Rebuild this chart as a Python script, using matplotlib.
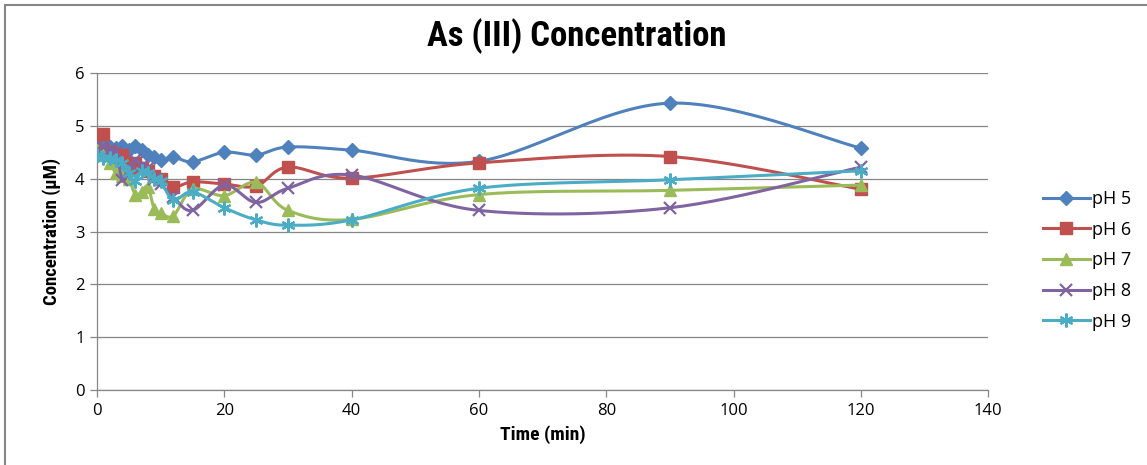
import numpy as np
import matplotlib
matplotlib.use("Agg")
import matplotlib.pyplot as plt
from matplotlib.patches import Rectangle

# ---- data ----
times = [0, 1, 2, 3, 4, 5, 6, 7, 8, 9, 10, 12, 15, 20, 25, 30, 40, 60, 90, 120]
ph5 = [4.60, 4.67, 4.60, 4.58, 4.62, 4.55, 4.62, 4.55, 4.45, 4.41, 4.35, 4.41, 4.32, 4.50, 4.45, 4.60, 4.54, 4.33, 5.43, 4.58]
ph6 = [4.55, 4.84, 4.50, 4.35, 4.45, 4.20, 4.30, 4.20, 4.15, 4.05, 4.00, 3.84, 3.94, 3.90, 3.86, 4.22, 4.01, 4.30, 4.42, 3.80]
ph7 = [4.55, 4.45, 4.30, 4.10, 4.05, 4.00, 3.70, 3.75, 3.85, 3.42, 3.35, 3.30, 3.80, 3.68, 3.93, 3.40, 3.23, 3.70, 3.78, 3.88]
ph8 = [4.55, 4.60, 4.55, 4.50, 3.97, 4.15, 4.35, 4.25, 4.20, 4.00, 3.90, 3.65, 3.40, 3.88, 3.55, 3.82, 4.07, 3.40, 3.45, 4.22]
ph9 = [4.45, 4.40, 4.40, 4.35, 4.30, 4.10, 3.95, 4.15, 4.10, 4.00, 3.95, 3.60, 3.75, 3.45, 3.22, 3.12, 3.22, 3.82, 3.98, 4.15]
series_names = ["pH 5", "pH 6", "pH 7", "pH 8", "pH 9"]

colors = ["#4F81BD", "#C0504D", "#9BBB59", "#8064A2", "#4BACC6"]
markers = ["D", "s", "^", "x", (6, 2, 0)]
msizes = [7, 9, 9, 9, 10]


def smooth(x, y, n=30):
    x = np.asarray(x, float)
    y = np.asarray(y, float)
    sx, sy = 1 / 140.0 * 893, 1 / 6.0 * 317
    P = np.column_stack([x * sx, y * sy])
    Pe = np.vstack([P[0], P, P[-1]])
    out = []
    t = np.linspace(0, 1, n)[:, None]
    for i in range(len(P) - 1):
        p0 = Pe[i + 1]
        p3 = Pe[i + 2]
        c1 = p0 + (Pe[i + 2] - Pe[i]) / 6.0
        c2 = p3 - (Pe[i + 3] - Pe[i + 1]) / 6.0
        seg = (1 - t) ** 3 * p0 + 3 * (1 - t) ** 2 * t * c1 + 3 * (1 - t) * t ** 2 * c2 + t ** 3 * p3
        out.append(seg if i == 0 else seg[1:])
    out = np.vstack(out)
    return out[:, 0] / sx, out[:, 1] / sy


fig = plt.figure(figsize=(11.47, 4.65), dpi=100)
ax = fig.add_axes([0.0846, 0.161, 0.777, 0.682])

font = ["Liberation Sans Narrow", "DejaVu Sans Condensed", "Roboto Condensed", "Open Sans", "DejaVu Sans"]
tick_font = ["Liberation Sans Narrow", "Open Sans", "DejaVu Sans"]

all_data = [ph5, ph6, ph7, ph8, ph9]
for i, (name, ys) in enumerate(zip(series_names, all_data)):
    sxv, syv = smooth(times, ys)
    ax.plot(sxv, syv, color=colors[i], lw=2.2, zorder=3 + i, solid_capstyle="round")
    mk = markers[i]
    thin = (mk == "x") or isinstance(mk, tuple)
    ax.plot(times, ys, linestyle="none", marker=mk, color=colors[i], ms=msizes[i],
            mec=colors[i], mew=1.6 if thin else 1.0, zorder=3 + i)
    ax.plot([], [], color=colors[i], lw=2.2, marker=mk, ms=msizes[i],
            mew=1.6 if thin else 1.0, label=name)

ax.set_xlim(0, 140)
ax.set_ylim(0, 6)
ax.set_xticks(range(0, 141, 20))
ax.set_yticks(range(0, 7))
ax.grid(axis="y", color="#868686", lw=0.9)
ax.set_axisbelow(True)
for s in ["top", "right"]:
    ax.spines[s].set_visible(False)
for s in ["left", "bottom"]:
    ax.spines[s].set_color("#868686")
    ax.spines[s].set_linewidth(0.9)
ax.tick_params(axis="both", colors="#868686", length=5, width=0.9, labelsize=12,
               labelcolor="black", pad=4)
for lab in ax.get_xticklabels() + ax.get_yticklabels():
    lab.set_family(tick_font)

ax.set_xlabel("Time (min)", fontsize=14, fontweight="bold", family=font, labelpad=5)
ax.set_ylabel("Concentration (µM)", fontsize=13.5, fontweight="bold", family=font, labelpad=10)

fig.text(0.503, 0.923, "As (III) Concentration", ha="center", va="center",
         fontsize=25, fontweight="bold", family=font)

leg = fig.legend(loc="center left", bbox_to_anchor=(0.895, 0.44), frameon=False,
                 handlelength=2.6, labelspacing=0.7, handletextpad=0.1,
                 prop={"family": tick_font, "size": 13})

fig.patches.append(Rectangle((0.004, -0.1), 1.2, 1.09, transform=fig.transFigure,
                             fill=False, ec="#868686", lw=1.5))

fig.savefig("out.png", dpi=100)
